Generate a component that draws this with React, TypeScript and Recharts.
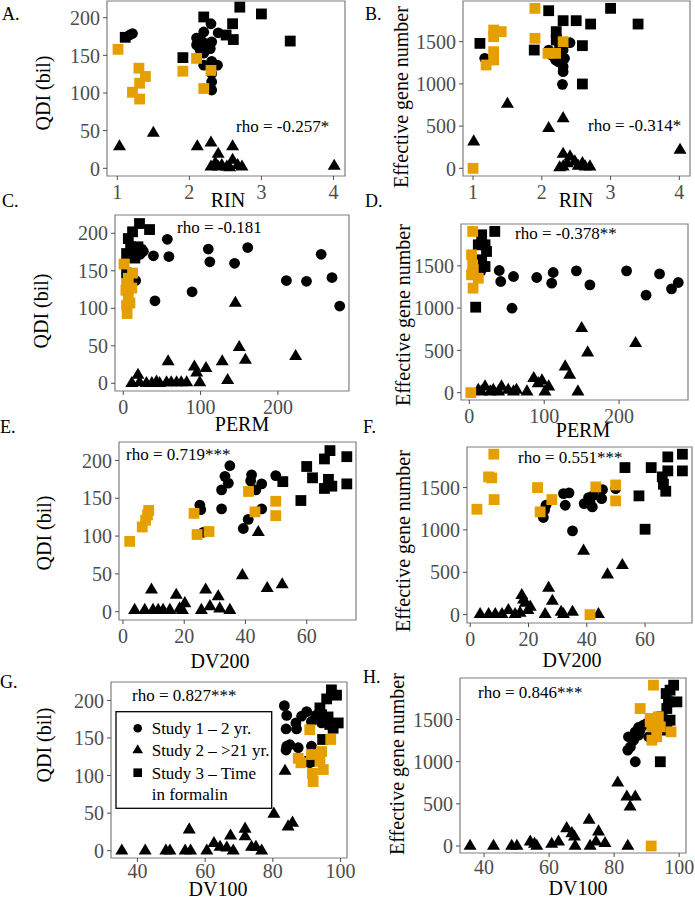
import { ScatterChart, Scatter, XAxis, YAxis, ReferenceArea } from 'recharts';

const ORANGE = '#E69F00';
const FONT = "'Liberation Serif', 'DejaVu Serif', serif";

// tick labels
const rinTicks = [1, 2, 3, 4];
const permTicks = [0, 100, 200];
const dv200Ticks = [0, 20, 40, 60];
const dv100Ticks = [40, 60, 80, 100];
const qdiTicks = [0, 50, 100, 150, 200];
const egnTicks = [0, 500, 1000, 1500];

// A. RIN vs QDI
const aStudy1 = [[1.17, 177], [1.21, 179], [2.3, 192], [2.4, 180], [2.1, 173], [2.2, 181], [2.1, 164], [2.22, 166], [2.31, 168], [2.29, 159], [2.2, 153], [2.15, 157], [2.31, 142], [2.2, 137], [2.39, 137], [2.31, 126], [2.31, 115], [2.31, 104]];
const aStudy2 = [[1.03, 29], [1.5, 47], [2.11, 29], [2.3, 34], [2.4, 19], [2.6, 29], [2.3, 2], [2.36, 7], [2.4, 2], [2.45, 4], [2.52, 2], [2.56, 1], [2.6, 11], [2.67, 4], [2.73, 2], [4.01, 3]];
const aStudy3 = [[1.11, 174], [1.91, 147], [2.2, 201], [2.51, 177], [2.6, 192], [2.61, 171], [2.7, 214], [3.0, 205], [3.4, 169], [2.15, 172], [2.22, 163]];
const aStudy3b = [[1.01, 158], [1.3, 133], [1.39, 122], [1.31, 113], [1.21, 101], [1.31, 92], [1.91, 129], [2.1, 146], [2.3, 130], [2.2, 106]];

// B. RIN vs effective gene number
const bStudy1 = [[1.17, 1303], [2.1, 1401], [2.14, 1342], [2.24, 1263], [2.31, 1401], [2.41, 1488], [2.31, 1204], [2.31, 1145], [2.3, 995], [2.33, 1303], [2.2, 1283], [2.26, 1461]];
const bStudy2 = [[1.01, 316], [1.5, 762], [2.1, 474], [2.31, 592], [2.31, 170], [2.41, 138], [2.48, 79], [2.59, 59], [2.7, 20], [2.31, 20], [2.37, 59], [2.53, 28], [2.63, 20], [2.26, 10], [4.01, 217]];
const bStudy3 = [[1.1, 1480], [1.89, 1401], [2.1, 1867], [2.31, 1749], [2.5, 1749], [2.71, 1709], [3.0, 1895], [3.4, 1709], [2.59, 1453], [2.59, 999], [2.21, 1619], [2.21, 1520], [2.26, 1401]];
const bStudy3b = [[1.0, 0], [1.19, 1224], [1.3, 1283], [1.3, 1382], [1.3, 1559], [1.3, 1638], [1.41, 1619], [1.9, 1895], [1.9, 1540], [2.09, 1362], [2.2, 1362], [2.31, 1500]];

// C. PERM vs QDI
const cStudy1 = [[57, 192], [59, 169], [39, 170], [41, 110], [89, 122], [110, 179], [112, 162], [144, 160], [161, 181], [211, 137], [237, 136], [256, 172], [270, 141], [280, 103], [24, 179], [22, 172], [16, 137], [26, 176]];
const cStudy2 = [[11, 0], [19, 11], [21, 1], [30, 0], [37, 0], [43, 2], [47, 0], [56, 1], [58, 29], [62, 1], [69, 1], [75, 1], [82, 1], [92, 22], [95, 14], [99, 1], [107, 20], [128, 29], [135, 4], [145, 107], [150, 48], [158, 31], [223, 36]];
const cStudy3 = [[6.5, 193], [12, 202], [21, 213], [34, 205], [4.3, 173], [13, 176], [15, 167], [19, 182], [9.5, 182], [4.3, 147]];
const cStudy3b = [[1, 159], [12, 147], [4.3, 132], [11, 127], [6.5, 116], [4.3, 104], [5, 93], [3.4, 124], [8.6, 107], [6.5, 140]];

// D. PERM vs effective gene number
const dStudy1 = [[40, 1445], [42, 1315], [59, 1374], [57, 999], [90, 1362], [112, 1421], [110, 1295], [143, 1441], [161, 1275], [210, 1441], [236, 1153], [254, 1405], [270, 1228], [279, 1303], [16, 1453], [10, 1394]];
const dStudy2 = [[12, 32], [21, 71], [32, 32], [43, 71], [52, 32], [63, 32], [77, 12], [86, 170], [97, 142], [101, 12], [106, 71], [128, 308], [134, 209], [145, 12], [150, 762], [158, 474], [222, 584], [92, 110], [16, 12], [28, 12], [39, 12], [59, 12]];
const dStudy3 = [[8.5, 1011], [16.5, 1867], [34, 1907], [12, 1749], [21, 1749], [23, 1670], [16.5, 1571], [12, 1512], [21, 1492], [5.3, 1413], [14, 1453]];
const dStudy3b = [[4.5, 1907], [3, 1630], [4.5, 1512], [3, 1394], [12, 1354], [5, 1236], [2, 0], [5.3, 1453]];

// E. DV200 vs QDI
const eStudy1 = [[25.1, 141], [25.4, 135], [26.2, 105], [32.2, 136], [32.2, 161], [33.3, 179], [34.4, 170], [34.9, 193], [39.3, 110], [40.9, 122], [41.7, 173], [42, 181], [43.4, 161], [45.3, 169], [45.3, 136], [49.9, 180]];
const eStudy2 = [[3.8, 2], [7.1, 2], [9.3, 29], [9.8, 2], [11.5, 2], [13.1, 2], [15.3, 2], [17.4, 22], [18.5, 4], [19.4, 2], [20.2, 11], [25.6, 2], [27, 29], [28.4, 7], [31.1, 20], [31.6, 4], [34.9, 2], [39, 48], [44.2, 105], [47.1, 31], [52, 36]];
const eStudy3 = [[52.2, 172], [58.1, 147], [60, 192], [61.9, 177], [65.8, 202], [67.6, 213], [65.8, 163], [67.1, 175], [68.2, 166], [73.1, 205], [73.1, 169]];
const eStudy3b = [[2.2, 93], [6.3, 112], [7.4, 121], [8, 128], [8.4, 134], [23.2, 130], [24.2, 102], [28.1, 106], [41, 159], [43.1, 132], [49.9, 146], [49.9, 127]];

// F. DV200 vs effective gene number
const fStudy1 = [[25.5, 1232], [25.1, 1146], [26, 1291], [32, 1429], [33.9, 1437], [32.6, 1291], [35.1, 988], [39.1, 1311], [40.6, 1382], [41.9, 1272], [42.3, 1409], [45.4, 1476], [45.1, 1370], [49.9, 1488], [41.1, 1331]];
const fStudy2 = [[3.4, 4], [6.3, 4], [8.6, 4], [10.9, 4], [13.1, 51], [15.4, 4], [17.1, 20], [17.7, 228], [18.3, 177], [18.9, 138], [19.8, 51], [20.6, 91], [25.7, 4], [26.9, 315], [28.2, 161], [31.2, 31], [32, 4], [35.1, 31], [38.9, 752], [44, 4], [47.1, 472], [52.2, 583]];
const fStudy3 = [[53.1, 1736], [57.9, 1402], [60, 1008], [62.1, 1736], [67.8, 1862], [72.8, 1894], [72.8, 1697], [67.8, 1697], [65.9, 1626], [66.3, 1539], [67.1, 1457]];
const fStudy3b = [[2.3, 1244], [6.3, 1626], [7.4, 1614], [8.1, 1894], [8.2, 1358], [23.1, 1500], [24, 1213], [28, 1358], [43.1, 1508], [49.9, 1531], [49.9, 1343], [41.1, 0]];

// G. DV100 vs QDI
const gStudy1 = [[83.4, 193], [84.1, 180], [83.9, 162], [84.1, 139], [85, 141], [87.5, 137], [86.8, 170], [90, 185], [91.4, 172], [87, 162], [91.4, 139], [88.5, 179], [92.7, 180], [94.4, 170], [83.9, 134], [90.9, 117]];
const gStudy2 = [[35.4, 0], [42.3, 0], [48.4, 0], [49.6, 0], [54.1, 0], [55.3, 28], [55.7, 0], [60.5, 0], [62.6, 10], [64.4, 5], [66.4, 4], [67.5, 20], [68.3, 0], [71.8, 29], [71.8, 19], [73.7, 5], [75, 5], [76.7, 0], [80.3, 49], [83.6, 106], [84.5, 32], [85.8, 37]];
const gStudy3 = [[93.9, 190], [95.9, 202], [97.3, 214], [98.8, 207], [99.3, 170], [96.3, 178], [96.8, 168], [97.8, 163], [94.7, 148], [94.4, 181], [95.4, 174], [90.9, 119]];
const gStudy3b = [[90.9, 161], [97.1, 148], [88.3, 117], [91.4, 128], [94.4, 132], [93.9, 119], [91.7, 103], [94.9, 108], [91.9, 92], [87.5, 123]];

// H. DV100 vs effective gene number
const hStudy1 = [[86.5, 999], [84.2, 1137], [84.4, 1295], [86, 1255], [87.5, 1315], [88, 1374], [86.5, 1354], [89, 1433], [90, 1453], [87.5, 1405], [90.6, 1295], [85, 1176], [92.6, 1413]];
const hStudy2 = [[35.7, 0], [42.9, 0], [48.5, 0], [50.1, 0], [54.2, 51], [55.5, 24], [56.2, 0], [60.8, 24], [62.9, 51], [65.4, 209], [67, 150], [67.8, 110], [68, 0], [72.3, 308], [72.6, 0], [74.4, 51], [75.2, 170], [77.2, 32], [81.1, 750], [83.9, 584], [84.9, 466], [84.2, 0], [86.5, 584]];
const hStudy3 = [[98.3, 1907], [96, 1808], [96.7, 1709], [99.3, 1709], [97.2, 1848], [96.2, 1630], [97.2, 1492], [95.7, 1413], [94.2, 999], [94.2, 1394], [94.7, 1532], [96.2, 1374]];
const hStudy3b = [[92.1, 1907], [88, 1630], [91.1, 1512], [93.6, 1532], [94.2, 1413], [91.6, 1413], [91.6, 1255], [91.1, 1473], [97.5, 1354], [91.4, 0], [93.1, 1295]];

const pts = (a: number[][]) => a.map(([x, y]) => ({ x, y }));

const Circle = (p: any) => <circle cx={p.cx} cy={p.cy} r={5.4} fill={p.fill} />;
const Square = (p: any) => <rect x={p.cx - 5.4} y={p.cy - 5.4} width={10.8} height={10.8} fill={p.fill} />;
const Triangle = (p: any) => (
    <path d={`M${p.cx},${p.cy - 7.3}L${p.cx + 6.5},${p.cy + 3.8}L${p.cx - 6.5},${p.cy + 3.8}Z`} fill={p.fill} />
);

const XTick = (p: any) => (
    <text x={p.x} y={p.y} dy="0.71em" textAnchor="middle" fill="#4d4d4d" fontSize={20} style={{ fontFamily: FONT }}>
        {p.payload.value}
    </text>
);
const YTick = (p: any) => (
    <text x={p.x} y={p.y} dy="0.36em" textAnchor="end" fill="#4d4d4d" fontSize={20} style={{ fontFamily: FONT }}>
        {p.payload.value}
    </text>
);

interface PanelProps {
    box: number[];
    xDomain: number[];
    yDomain: number[];
    xTicks: number[];
    yTicks: number[];
    s1: number[][];
    s2: number[][];
    s3: number[][];
    s3b: number[][];
    gap?: number;
}

function Panel({ box, xDomain, yDomain, xTicks, yTicks, s1, s2, s3, s3b, gap = 5 }: PanelProps) {
    const [x1, y1, x2, y2] = box;
    const YW = 60, XH = 34, MT = 5, MR = 24;
    return (
        <div style={{ position: 'absolute', left: x1 - YW, top: y1 - MT }}>
            <ScatterChart width={x2 - x1 + YW + MR} height={y2 - y1 + MT + XH} margin={{ top: MT, right: MR, bottom: 0, left: 0 }}>
                <XAxis type="number" dataKey="x" domain={xDomain} ticks={xTicks} interval={0} allowDataOverflow height={XH}
                    axisLine={false} tickLine={{ stroke: '#4d4d4d' }} tickSize={4} tickMargin={gap} tick={<XTick />} />
                <YAxis type="number" dataKey="y" domain={yDomain} ticks={yTicks} interval={0} allowDataOverflow width={YW}
                    axisLine={false} tickLine={{ stroke: '#4d4d4d' }} tickSize={4} tickMargin={3} tick={<YTick />} />
                <ReferenceArea x1={xDomain[0]} x2={xDomain[1]} y1={yDomain[0]} y2={yDomain[1]} fill="none" stroke="#7f7f7f" strokeWidth={1.2} />
                <Scatter data={pts(s1)} fill="#000" shape={Circle} isAnimationActive={false} />
                <Scatter data={pts(s2)} fill="#000" shape={Triangle} isAnimationActive={false} />
                <Scatter data={pts(s3)} fill="#000" shape={Square} isAnimationActive={false} />
                <Scatter data={pts(s3b)} fill={ORANGE} shape={Square} isAnimationActive={false} />
            </ScatterChart>
        </div>
    );
}

function YTitle({ x, y, text }: { x: number; y: number; text: string }) {
    return (
        <text x={x} y={y} transform={`rotate(-90 ${x} ${y})`} textAnchor="middle" dominantBaseline="central" fontSize={20}>
            {text}
        </text>
    );
}

function XTitle({ x, y, text }: { x: number; y: number; text: string }) {
    return <text x={x} y={y} textAnchor="middle" fontSize={20}>{text}</text>;
}

export default function App() {
    return (
        <div style={{ position: 'absolute', left: 0, top: 0, width: 695, height: 900, background: '#fff', fontFamily: FONT }}>
            <Panel box={[107, 1, 345, 176]} xDomain={[0.857, 4.16]} yDomain={[-10.2, 222.2]} xTicks={rinTicks} yTicks={qdiTicks} s1={aStudy1} s2={aStudy2} s3={aStudy3} s3b={aStudy3b} />
            <Panel box={[463, 1, 690, 176]} xDomain={[0.854, 4.155]} yDomain={[-91, 1982]} xTicks={rinTicks} yTicks={egnTicks} s1={bStudy1} s2={bStudy2} s3={bStudy3} s3b={bStudy3b} />
            <Panel box={[115, 215, 349, 391]} xDomain={[-10.7, 292]} yDomain={[-10.3, 224.4]} xTicks={permTicks} yTicks={qdiTicks} s1={cStudy1} s2={cStudy2} s3={cStudy3} s3b={cStudy3b} />
            <Panel box={[461, 224, 688, 400]} xDomain={[-11.1, 292]} yDomain={[-87, 1995]} xTicks={permTicks} yTicks={egnTicks} s1={dStudy1} s2={dStudy2} s3={dStudy3} s3b={dStudy3b} />
            <Panel box={[119, 442, 356, 620]} xDomain={[-1.3, 76.1]} yDomain={[-11, 224.4]} xTicks={dv200Ticks} yTicks={qdiTicks} s1={eStudy1} s2={eStudy2} s3={eStudy3} s3b={eStudy3b} />
            <Panel box={[467, 447, 692, 623]} xDomain={[-1.1, 76.1]} yDomain={[-99, 1979]} xTicks={dv200Ticks} yTicks={egnTicks} s1={fStudy1} s2={fStudy2} s3={fStudy3} s3b={fStudy3b} />
            <Panel box={[111, 682, 347, 858]} xDomain={[32.2, 101.9]} yDomain={[-9.7, 224.5]} xTicks={dv100Ticks} yTicks={qdiTicks} s1={gStudy1} s2={gStudy2} s3={gStudy3} s3b={gStudy3b} gap={2} />
            <Panel box={[460, 678, 686, 853]} xDomain={[32.6, 102.1]} yDomain={[-83, 1992]} xTicks={dv100Ticks} yTicks={egnTicks} s1={hStudy1} s2={hStudy2} s3={hStudy3} s3b={hStudy3b} gap={3} />

            <svg width={695} height={900} style={{ position: 'absolute', left: 0, top: 0, pointerEvents: 'none', fontFamily: FONT }} fill="#000">
                {/* panel letters */}
                <g fontSize={18}>
                    <text x={2} y={20}>A.</text>
                    <text x={365} y={20}>B.</text>
                    <text x={2} y={207}>C.</text>
                    <text x={365} y={207}>D.</text>
                    <text x={0} y={433}>E.</text>
                    <text x={363} y={433}>F.</text>
                    <text x={0} y={688}>G.</text>
                    <text x={363} y={683}>H.</text>
                </g>

                <YTitle x={43} y={93} text="QDI (bil)" />
                <YTitle x={401} y={97} text="Effective gene number" />
                <YTitle x={41} y={311} text="QDI (bil)" />
                <YTitle x={403} y={315} text="Effective gene number" />
                <YTitle x={44} y={533} text="QDI (bil)" />
                <YTitle x={403} y={541} text="Effective gene number" />
                <YTitle x={44} y={745} text="QDI (bil)" />
                <YTitle x={397} y={764} text="Effective gene number" />

                <XTitle x={228} y={207} text="RIN" />
                <XTitle x={576} y={207} text="RIN" />
                <XTitle x={242} y={431} text="PERM" />
                <XTitle x={583} y={437} text="PERM" />
                <XTitle x={220} y={668} text="DV200" />
                <XTitle x={572} y={667} text="DV200" />
                <XTitle x={218} y={896} text="DV100" />
                <XTitle x={578} y={895} text="DV100" />

                {/* correlation labels */}
                <g fontSize={17}>
                    <text x={236} y={132}>rho = -0.257*</text>
                    <text x={588} y={131}>rho = -0.314*</text>
                    <text x={177} y={233}>rho = -0.181</text>
                    <text x={515} y={239}>rho = -0.378**</text>
                    <text x={126} y={460}>rho = 0.719***</text>
                    <text x={518} y={463}>rho = 0.551***</text>
                    <text x={132} y={701}>rho = 0.827***</text>
                    <text x={478} y={698}>rho = 0.846***</text>
                </g>

                {/* legend in G */}
                <rect x={116} y={711.7} width={155.7} height={96.6} fill="#fff" stroke="#000" strokeWidth={1.3} />
                <circle cx={137.7} cy={728.3} r={4.3} />
                <path d="M137.7,744.2L143,753.2L132.4,753.2Z" />
                <rect x={133.4} y={768.4} width={8.6} height={8.6} />
                <g fontSize={17}>
                    <text x={151.7} y={734}>Study 1 – 2 yr.</text>
                    <text x={151.7} y={756}>Study 2 – &gt;21 yr.</text>
                    <text x={151.7} y={779}>Study 3 – Time</text>
                    <text x={151.7} y={800}>in formalin</text>
                </g>
            </svg>
        </div>
    );
}
